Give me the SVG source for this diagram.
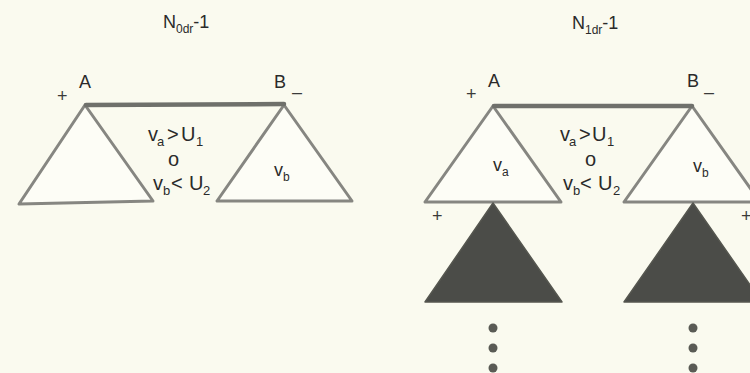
<svg xmlns="http://www.w3.org/2000/svg" width="750" height="373" viewBox="0 0 750 373">
<style>
text{font-family:"Liberation Sans",Arial,sans-serif;fill:#2a2a2a;font-size:18px}
.sub{font-size:12px}
.c{font-size:20px}
.cs{font-size:13px}
.pm{fill:#3a3a3a}
.tri{fill:#fdfdf6;stroke:#868681;stroke-width:3;stroke-linejoin:round}
.dark{fill:#4b4c48;stroke:#55564f;stroke-width:1.5;stroke-linejoin:round}
.bar{stroke:#6f706b;stroke-width:4.5;stroke-linecap:round;fill:none}
.dot{fill:#5a5b55}
</style>
<rect width="750" height="373" fill="#fafaef"/>
<g id="left-panel">
  <g id="title-left"><text x="163" y="28" font-size="19">N<tspan class="sub" dy="5">0dr</tspan><tspan dy="-5">-1</tspan></text></g>
  <g id="left-A">
    <polygon class="tri" points="85,105 19,204 153,201"/>
    <text x="79" y="88">A</text>
    <text class="pm" x="57" y="102">+</text>
  </g>
  <g id="left-B">
    <polygon class="tri" points="284,105 217,201 352,201"/>
    <text x="274" y="88">B</text>
    <text class="pm" x="292" y="98">–</text>
    <text x="274" y="176">v<tspan class="sub" dy="5">b</tspan></text>
  </g>
  <g id="left-cond">
    <text class="c" y="141"><tspan x="148">v</tspan><tspan class="cs" x="157" dy="5">a</tspan><tspan x="167" dy="-5">&gt;</tspan><tspan x="181">U</tspan><tspan class="cs" x="196" dy="5">1</tspan></text>
    <text class="c" x="168" y="166">o</text>
    <text class="c" y="190"><tspan x="153">v</tspan><tspan class="cs" x="163" dy="5">b</tspan><tspan x="171" dy="-5">&lt;</tspan><tspan x="189">U</tspan><tspan class="cs" x="203" dy="5">2</tspan></text>
  </g>
</g>
<g id="right-panel">
  <g id="title-right"><text x="572" y="29" font-size="19">N<tspan class="sub" dy="5">1dr</tspan><tspan dy="-5">-1</tspan></text></g>
  <g id="right-A">
    <polygon class="tri" points="493,106 425,202 561,202"/>
    <text x="488" y="87">A</text>
    <text class="pm" x="466" y="100">+</text>
    <text x="493" y="171" font-size="19">v<tspan class="sub" dy="5">a</tspan></text>
  </g>
  <g id="right-B">
    <polygon class="tri" points="692,106 624,202 760,202"/>
    <text x="687" y="87">B</text>
    <text class="pm" x="704" y="98">–</text>
    <text x="693" y="172" font-size="19">v<tspan class="sub" dy="5">b</tspan></text>
  </g>
  <g id="right-cond">
    <text class="c" y="141"><tspan x="560">v</tspan><tspan class="cs" x="569" dy="5">a</tspan><tspan x="579" dy="-5">&gt;</tspan><tspan x="592">U</tspan><tspan class="cs" x="607" dy="5">1</tspan></text>
    <text class="c" x="585" y="166">o</text>
    <text class="c" y="190"><tspan x="563">v</tspan><tspan class="cs" x="573" dy="5">b</tspan><tspan x="580" dy="-5">&lt;</tspan><tspan x="598">U</tspan><tspan class="cs" x="613" dy="5">2</tspan></text>
  </g>
  <g id="sub-A">
    <polygon class="dark" points="493,203 425,302 562,302"/>
    <text class="pm" x="432" y="222">+</text>
    <circle class="dot" cx="493" cy="328" r="4.5"/>
    <circle class="dot" cx="493" cy="348" r="4.5"/>
    <circle class="dot" cx="493" cy="368" r="4.5"/>
  </g>
  <g id="sub-B">
    <polygon class="dark" points="693,203 624,302 762,302"/>
    <text class="pm" x="741" y="222">+</text>
    <circle class="dot" cx="693" cy="328" r="4.5"/>
    <circle class="dot" cx="693" cy="348" r="4.5"/>
    <circle class="dot" cx="693" cy="368" r="4.5"/>
  </g>
</g>
<g id="connectors">
  <line class="bar" x1="86" y1="105" x2="284" y2="104"/>
  <line class="bar" x1="494" y1="106" x2="692" y2="106"/>
</g>
</svg>
